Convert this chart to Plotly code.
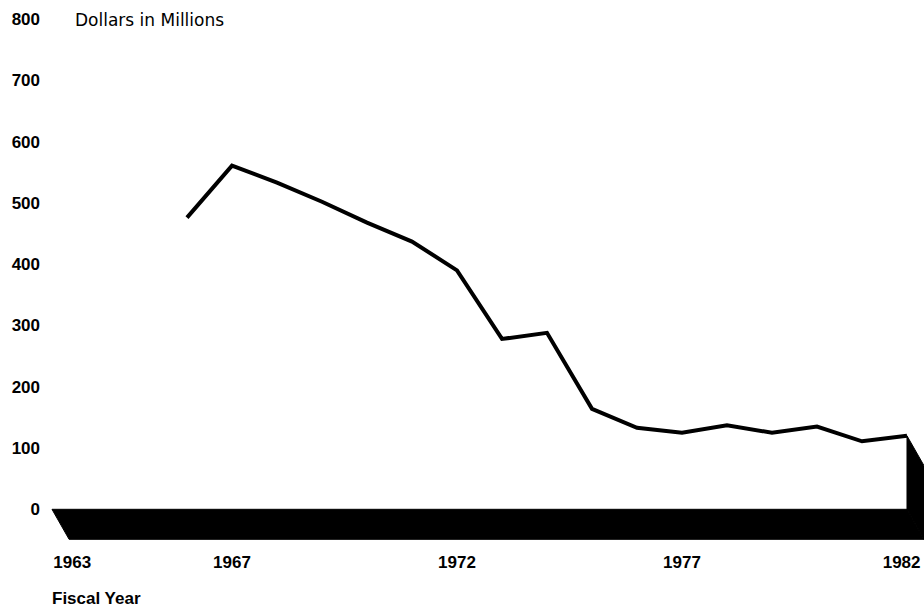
import plotly.graph_objects as go

years = [1966, 1967, 1968, 1969, 1970, 1971, 1972, 1973, 1974, 1975, 1976,
         1977, 1978, 1979, 1980, 1981, 1982]
dollars = [476, 561, 533, 502, 468, 437, 390, 278, 288, 164, 133,
           125, 137, 125, 135, 111, 120]

x_tick_labels = ["1963", "1967", "1972", "1977", "1982"]
x_tick_years = [1963, 1967, 1972, 1977, 1982]
y_ticks = [0, 100, 200, 300, 400, 500, 600, 700, 800]

base_start = 1963
# pseudo-3D depth offset of the black base (style)
DX = 0.38
DY = -49

font_family = "Liberation Sans, Arial, Helvetica, sans-serif"

fig = go.Figure()

x_end = years[-1]
# bottom face of the base
fig.add_trace(go.Scatter(
    x=[base_start, x_end, x_end + DX, base_start + DX, base_start],
    y=[0, 0, DY, DY, 0],
    fill="toself", fillcolor="black", mode="lines",
    line=dict(color="black", width=1), hoverinfo="skip", showlegend=False))

# right side face
v_last = dollars[-1]
fig.add_trace(go.Scatter(
    x=[x_end, x_end + DX, x_end + DX, x_end, x_end],
    y=[v_last, v_last + DY, DY, 0, v_last],
    fill="toself", fillcolor="black", mode="lines",
    line=dict(color="black", width=1), hoverinfo="skip", showlegend=False))

# the data line
fig.add_trace(go.Scatter(
    x=years, y=dollars, mode="lines",
    line=dict(color="black", width=4), showlegend=False))

# label positions (end labels nudged inward, as in the original)
label_nudge = {1963: 0.45, 1982: -0.12}
tick_pos = [y + label_nudge.get(y, 0) for y in x_tick_years]

W, H = 924, 607
pl, pr, pt, pb = 47, 0, 13, 64
pw, ph = W - pl - pr, H - pt - pb

def px_to_paper(px, py):
    return (px - pl) / pw, (H - pb - py) / ph

ax, ay = px_to_paper(73, 20)
bx, by = px_to_paper(50, 598)

fig.update_layout(
    width=W, height=H,
    margin=dict(l=pl, r=pr, t=pt, b=pb),
    paper_bgcolor="white", plot_bgcolor="white",
    font=dict(family=font_family, size=17, color="black"),
    xaxis=dict(range=[1962.889, 1982.378], showgrid=False, zeroline=False,
               showline=False, ticks="", tickvals=tick_pos,
               ticktext=x_tick_labels, ticklabelstandoff=7,
               ticklabeloverflow="allow",
               tickfont=dict(size=17, family=font_family, weight="bold")),
    yaxis=dict(range=[-55, 810], showgrid=False, zeroline=False,
               showline=False, ticks="", tickvals=y_ticks,
               ticktext=[str(v) for v in y_ticks], ticklabelstandoff=6,
               ticklabeloverflow="allow",
               tickfont=dict(size=17, family=font_family, weight="bold")),
    annotations=[
        dict(text="Dollars in Millions", x=ax, y=ay, xref="paper", yref="paper",
             xanchor="left", yanchor="middle", showarrow=False,
             font=dict(size=17, family="DejaVu Sans, sans-serif")),
        dict(text="<b>Fiscal Year</b>", x=bx, y=by, xref="paper", yref="paper",
             xanchor="left", yanchor="middle", showarrow=False,
             font=dict(size=17, family=font_family)),
    ],
)

fig.write_html("out.html",
               config={"displayModeBar": False},
               post_script="document.body.style.margin='0px';document.body.style.overflow='hidden';")
